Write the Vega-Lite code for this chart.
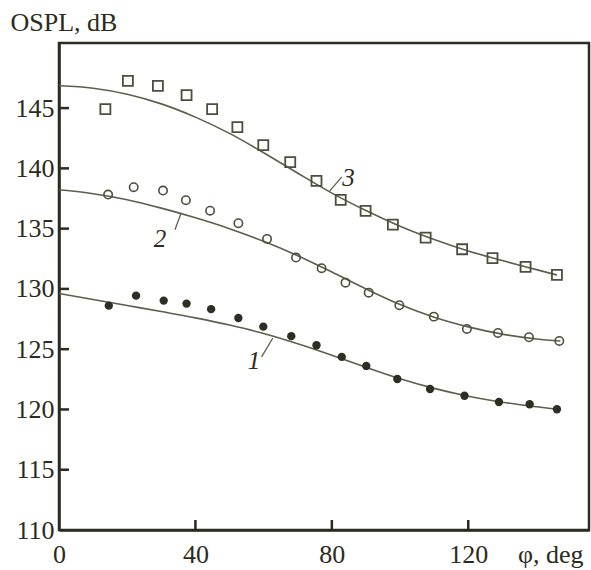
{
  "$schema": "https://vega.github.io/schema/vega-lite/v6.json",
  "width": 530,
  "height": 487,
  "autosize": {"type": "none"},
  "padding": {"left": 59, "top": 43, "right": 2, "bottom": 40},
  "background": "#ffffff",
  "config": {
    "view": {"stroke": "#2b2b20", "strokeWidth": 2.5},
    "axis": {
      "grid": false,
      "tickSize": 0,
      "tickWidth": 0,
      "domainColor": "#2b2b20",
      "domainWidth": 2.5,
      "labelFont": "Liberation Serif",
      "labelFontSize": 26,
      "labelColor": "#2b2b20",
      "titleFont": "Liberation Serif",
      "titleFontSize": 26,
      "titleFontWeight": "normal",
      "titleColor": "#2b2b20"
    }
  },
  "datasets": {
    "curves": [
      {"s": "1", "phi": 0, "v": 129.62}, {"s": "1", "phi": 10, "v": 129.12}, {"s": "1", "phi": 20, "v": 128.62},
      {"s": "1", "phi": 30, "v": 128.12}, {"s": "1", "phi": 40, "v": 127.6}, {"s": "1", "phi": 50, "v": 127.0},
      {"s": "1", "phi": 60, "v": 126.3}, {"s": "1", "phi": 70, "v": 125.45}, {"s": "1", "phi": 80, "v": 124.5},
      {"s": "1", "phi": 90, "v": 123.5}, {"s": "1", "phi": 100, "v": 122.55}, {"s": "1", "phi": 110, "v": 121.75},
      {"s": "1", "phi": 120, "v": 121.1}, {"s": "1", "phi": 130, "v": 120.6}, {"s": "1", "phi": 140, "v": 120.22},
      {"s": "1", "phi": 146, "v": 120.02},
      {"s": "2", "phi": 0, "v": 138.22}, {"s": "2", "phi": 10, "v": 137.9}, {"s": "2", "phi": 20, "v": 137.4},
      {"s": "2", "phi": 30, "v": 136.7}, {"s": "2", "phi": 40, "v": 135.9}, {"s": "2", "phi": 50, "v": 135.0},
      {"s": "2", "phi": 60, "v": 133.95}, {"s": "2", "phi": 70, "v": 132.75}, {"s": "2", "phi": 80, "v": 131.4},
      {"s": "2", "phi": 90, "v": 130.0}, {"s": "2", "phi": 100, "v": 128.7}, {"s": "2", "phi": 110, "v": 127.65},
      {"s": "2", "phi": 120, "v": 126.85}, {"s": "2", "phi": 130, "v": 126.25}, {"s": "2", "phi": 140, "v": 125.85},
      {"s": "2", "phi": 147, "v": 125.68},
      {"s": "3", "phi": 0, "v": 146.85}, {"s": "3", "phi": 10, "v": 146.65}, {"s": "3", "phi": 20, "v": 146.15},
      {"s": "3", "phi": 30, "v": 145.35}, {"s": "3", "phi": 40, "v": 144.25}, {"s": "3", "phi": 50, "v": 142.9},
      {"s": "3", "phi": 60, "v": 141.3}, {"s": "3", "phi": 70, "v": 139.6}, {"s": "3", "phi": 80, "v": 137.95},
      {"s": "3", "phi": 90, "v": 136.5}, {"s": "3", "phi": 100, "v": 135.2}, {"s": "3", "phi": 110, "v": 134.1},
      {"s": "3", "phi": 120, "v": 133.15}, {"s": "3", "phi": 130, "v": 132.35}, {"s": "3", "phi": 140, "v": 131.6},
      {"s": "3", "phi": 146, "v": 131.15}
    ],
    "squares": [
      {"phi": 13.6, "v": 144.91}, {"phi": 20.2, "v": 147.26}, {"phi": 29.0, "v": 146.85}, {"phi": 37.4, "v": 146.07},
      {"phi": 44.9, "v": 144.91}, {"phi": 52.3, "v": 143.42}, {"phi": 59.9, "v": 141.93}, {"phi": 67.8, "v": 140.51},
      {"phi": 75.5, "v": 138.96}, {"phi": 82.6, "v": 137.39}, {"phi": 89.9, "v": 136.47}, {"phi": 97.9, "v": 135.34},
      {"phi": 107.5, "v": 134.26}, {"phi": 118.2, "v": 133.29}, {"phi": 127.1, "v": 132.55}, {"phi": 136.8, "v": 131.83},
      {"phi": 146.0, "v": 131.16}
    ],
    "circles": [
      {"phi": 14.4, "v": 137.83}, {"phi": 21.9, "v": 138.44}, {"phi": 30.5, "v": 138.16}, {"phi": 37.2, "v": 137.36},
      {"phi": 44.3, "v": 136.49}, {"phi": 52.6, "v": 135.45}, {"phi": 61.0, "v": 134.15}, {"phi": 69.5, "v": 132.6},
      {"phi": 77.0, "v": 131.72}, {"phi": 84.0, "v": 130.52}, {"phi": 90.8, "v": 129.69}, {"phi": 99.8, "v": 128.65},
      {"phi": 109.9, "v": 127.7}, {"phi": 119.6, "v": 126.68}, {"phi": 128.7, "v": 126.35}, {"phi": 137.8, "v": 125.99},
      {"phi": 146.7, "v": 125.68}
    ],
    "dots": [
      {"phi": 14.6, "v": 128.61}, {"phi": 22.6, "v": 129.44}, {"phi": 30.7, "v": 129.03}, {"phi": 37.4, "v": 128.78},
      {"phi": 44.6, "v": 128.32}, {"phi": 52.6, "v": 127.59}, {"phi": 59.9, "v": 126.87}, {"phi": 68.1, "v": 126.08},
      {"phi": 75.5, "v": 125.33}, {"phi": 82.9, "v": 124.36}, {"phi": 90.1, "v": 123.61}, {"phi": 99.2, "v": 122.53},
      {"phi": 108.8, "v": 121.7}, {"phi": 118.9, "v": 121.14}, {"phi": 129.0, "v": 120.62}, {"phi": 138.0, "v": 120.43},
      {"phi": 146.0, "v": 120.02}
    ],
    "leaders": [
      {"phi": 79.4, "v": 138.13, "phi2": 82.9, "v2": 139.3},
      {"phi": 34.0, "v": 134.9, "phi2": 35.7, "v2": 136.22},
      {"phi": 59.4, "v": 124.36, "phi2": 62.7, "v2": 125.93}
    ],
    "labels": [
      {"phi": 84.9, "v": 139.2, "t": "3"},
      {"phi": 29.6, "v": 134.1, "t": "2"},
      {"phi": 57.2, "v": 124.0, "t": "1"}
    ],
    "yticks": [{"v": 115}, {"v": 120}, {"v": 125}, {"v": 130}, {"v": 135}, {"v": 140}, {"v": 145}],
    "xticks": [{"phi": 40}, {"phi": 80}, {"phi": 120}]
  },
  "layer": [
    {
      "data": {"name": "curves"},
      "mark": {"type": "line", "interpolate": "monotone", "color": "#5e5e4c", "strokeWidth": 1.6},
      "encoding": {
        "x": {"field": "phi", "type": "quantitative", "scale": {"domain": [0, 155.4], "nice": false},
          "axis": {"values": [0, 40, 80, 120], "labelFlush": false, "labelPadding": 11, "title": "φ, deg",
            "titleX": 524, "titleY": 32, "titleAlign": "right", "titleBaseline": "alphabetic"}},
        "y": {"field": "v", "type": "quantitative", "scale": {"domain": [110, 150.4], "nice": false, "zero": false},
          "axis": {"values": [110, 115, 120, 125, 130, 135, 140, 145], "labelPadding": 5, "title": "OSPL, dB",
            "titleAngle": 0, "titleX": -49, "titleY": -13, "titleAlign": "left", "titleBaseline": "alphabetic"}},
        "detail": {"field": "s"}
      }
    },
    {
      "data": {"name": "yticks"},
      "mark": {"type": "rule", "color": "#2b2b20", "strokeWidth": 2.5},
      "encoding": {
        "y": {"field": "v", "type": "quantitative"},
        "x": {"datum": 0, "type": "quantitative"},
        "x2": {"datum": 2.93}
      }
    },
    {
      "data": {"name": "xticks"},
      "mark": {"type": "rule", "color": "#2b2b20", "strokeWidth": 2.5},
      "encoding": {
        "x": {"field": "phi", "type": "quantitative"},
        "y": {"datum": 110, "type": "quantitative"},
        "y2": {"datum": 110.83}
      }
    },
    {
      "data": {"name": "squares"},
      "mark": {"type": "point", "shape": "square", "filled": false, "color": "#4e4e3e", "strokeWidth": 1.8, "size": 100, "opacity": 1},
      "encoding": {
        "x": {"field": "phi", "type": "quantitative"},
        "y": {"field": "v", "type": "quantitative"}
      }
    },
    {
      "data": {"name": "circles"},
      "mark": {"type": "point", "shape": "circle", "filled": false, "color": "#4e4e3e", "strokeWidth": 1.6, "size": 70, "opacity": 1},
      "encoding": {
        "x": {"field": "phi", "type": "quantitative"},
        "y": {"field": "v", "type": "quantitative"}
      }
    },
    {
      "data": {"name": "dots"},
      "mark": {"type": "point", "shape": "circle", "filled": true, "color": "#2e2e24", "size": 70, "opacity": 1},
      "encoding": {
        "x": {"field": "phi", "type": "quantitative"},
        "y": {"field": "v", "type": "quantitative"}
      }
    },
    {
      "data": {"name": "leaders"},
      "mark": {"type": "rule", "color": "#5e5e4c", "strokeWidth": 1.3},
      "encoding": {
        "x": {"field": "phi", "type": "quantitative"},
        "y": {"field": "v", "type": "quantitative"},
        "x2": {"field": "phi2"},
        "y2": {"field": "v2"}
      }
    },
    {
      "data": {"name": "labels"},
      "mark": {"type": "text", "font": "Liberation Serif", "fontStyle": "italic", "fontSize": 25, "color": "#2b2b20", "align": "center", "baseline": "middle"},
      "encoding": {
        "x": {"field": "phi", "type": "quantitative"},
        "y": {"field": "v", "type": "quantitative"},
        "text": {"field": "t"}
      }
    }
  ]
}
